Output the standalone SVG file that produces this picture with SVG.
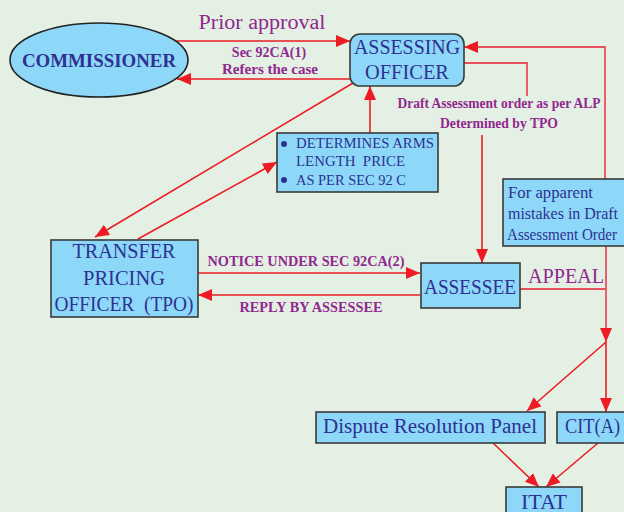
<svg xmlns="http://www.w3.org/2000/svg" width="624" height="512" viewBox="0 0 624 512">
<defs>
<style>
.bg{fill:#E3F0E3}
.box{fill:#8DD8F8;stroke:#3a3a3a;stroke-width:1.6}
.n{font-family:"Liberation Serif","Times New Roman",serif;fill:#2E3192}
.lb{font-family:"Liberation Serif","Times New Roman",serif;fill:#92278F}
.b{font-weight:bold}
.c{stroke:#ED1C24;stroke-width:1.6;fill:none}
.c2{stroke:#E9505E;stroke-width:1.8;fill:none}
</style>
<marker id="ah" viewBox="0 0 14 12" refX="14" refY="6" markerWidth="14" markerHeight="12" orient="auto" markerUnits="userSpaceOnUse"><path d="M0,0 L14,6 L0,12 z" fill="#ED1C24"/></marker>
</defs>
<rect class="bg" x="0" y="0" width="624" height="512"/>

<g id="connectors">
<path class="c" d="M175,41 H350" marker-end="url(#ah)"/>
<path class="c" d="M350,79 H177" marker-end="url(#ah)"/>
<path class="c2" d="M605,179 V47 H464" marker-end="url(#ah)"/>
<path class="c2" d="M464,63 H527 V96"/>
<path class="c" d="M482,135 V263" marker-end="url(#ah)"/>
<path class="c" d="M370,133 V86" marker-end="url(#ah)"/>
<path class="c" d="M353,83 L95,237" marker-end="url(#ah)"/>
<path class="c" d="M138,239 L277,162" marker-end="url(#ah)"/>
<path class="c" d="M198,273 H420" marker-end="url(#ah)"/>
<path class="c" d="M420,295 H198" marker-end="url(#ah)"/>
<path class="c2" d="M520,289 H606"/>
<path class="c2" d="M606,246 V342" marker-end="url(#ah)"/>
<path class="c" d="M606,342 L527,411" marker-end="url(#ah)"/>
<path class="c" d="M606,342 V412" marker-end="url(#ah)"/>
<path class="c" d="M493,443 L539,487" marker-end="url(#ah)"/>
<path class="c" d="M598,443 L546,487" marker-end="url(#ah)"/>
</g>

<g id="labels">
<text class="lb" x="262" y="29" font-size="20" text-anchor="middle" textLength="127" lengthAdjust="spacingAndGlyphs">Prior approval</text>
<text class="lb b" x="269" y="57" font-size="14" text-anchor="middle">Sec 92CA(1)</text>
<text class="lb b" x="270" y="74" font-size="14" text-anchor="middle" textLength="96" lengthAdjust="spacingAndGlyphs">Refers the case</text>
<text class="lb b" x="499" y="108" font-size="14" text-anchor="middle" textLength="203" lengthAdjust="spacingAndGlyphs">Draft Assessment order as per ALP</text>
<text class="lb b" x="499" y="128" font-size="14" text-anchor="middle" textLength="118" lengthAdjust="spacingAndGlyphs">Determined by TPO</text>
<text class="lb b" x="306" y="266" font-size="14" text-anchor="middle" textLength="197" lengthAdjust="spacingAndGlyphs">NOTICE UNDER SEC 92CA(2)</text>
<text class="lb b" x="311" y="312" font-size="14" text-anchor="middle" textLength="143" lengthAdjust="spacingAndGlyphs">REPLY BY ASSESSEE</text>
<text class="lb" x="566" y="283" font-size="20" text-anchor="middle" textLength="76" lengthAdjust="spacingAndGlyphs">APPEAL</text>
</g>

<g id="commissioner">
<ellipse cx="99" cy="60" rx="89" ry="37" fill="#8DD8F8" stroke="#222" stroke-width="1.6"/>
<text class="n b" x="99" y="67" font-size="19" text-anchor="middle" textLength="154" lengthAdjust="spacingAndGlyphs">COMMISSIONER</text>
</g>

<g id="assessing-officer">
<rect class="box" x="350" y="34" width="114" height="52" rx="10"/>
<text class="n" x="407" y="54" font-size="21" text-anchor="middle" textLength="106" lengthAdjust="spacingAndGlyphs">ASSESSING</text>
<text class="n" x="407" y="79" font-size="21" text-anchor="middle" textLength="84" lengthAdjust="spacingAndGlyphs">OFFICER</text>
</g>

<g id="determines">
<rect class="box" x="277" y="133" width="161" height="59"/>
<circle cx="284" cy="144" r="3" fill="#2E3192"/>
<circle cx="284" cy="180" r="3" fill="#2E3192"/>
<text class="n" x="296" y="148" font-size="15" textLength="138" lengthAdjust="spacingAndGlyphs">DETERMINES ARMS</text>
<text class="n" x="296" y="166" font-size="15" xml:space="preserve" textLength="109" lengthAdjust="spacingAndGlyphs">LENGTH  PRICE</text>
<text class="n" x="296" y="185" font-size="15" textLength="110" lengthAdjust="spacingAndGlyphs">AS PER SEC 92 C</text>
</g>

<g id="tpo">
<rect class="box" x="51" y="240" width="147" height="77"/>
<text class="n" x="124" y="258" font-size="21" text-anchor="middle" textLength="103" lengthAdjust="spacingAndGlyphs">TRANSFER</text>
<text class="n" x="124" y="285" font-size="21" text-anchor="middle" textLength="82" lengthAdjust="spacingAndGlyphs">PRICING</text>
<text class="n" x="124" y="311" font-size="21" text-anchor="middle" xml:space="preserve" textLength="139" lengthAdjust="spacingAndGlyphs">OFFICER  (TPO)</text>
</g>

<g id="assessee">
<rect class="box" x="421" y="263" width="99" height="45"/>
<text class="n" x="470" y="294" font-size="21" text-anchor="middle" textLength="92" lengthAdjust="spacingAndGlyphs">ASSESSEE</text>
</g>

<g id="apparent-mistakes">
<rect class="box" x="503" y="179" width="130" height="67"/>
<text class="n" x="508" y="198" font-size="17" textLength="85" lengthAdjust="spacingAndGlyphs">For apparent</text>
<text class="n" x="508" y="219" font-size="17" textLength="110" lengthAdjust="spacingAndGlyphs">mistakes in Draft</text>
<text class="n" x="507" y="240" font-size="16" textLength="110" lengthAdjust="spacingAndGlyphs">Assessment Order</text>
</g>

<g id="drp">
<rect class="box" x="316" y="412" width="229" height="31"/>
<text class="n" x="430" y="433" font-size="20" text-anchor="middle" textLength="214" lengthAdjust="spacingAndGlyphs">Dispute Resolution Panel</text>
</g>

<g id="cita">
<rect class="box" x="557" y="412" width="80" height="31"/>
<text class="n" x="565" y="433" font-size="20" textLength="55" lengthAdjust="spacingAndGlyphs">CIT(A)</text>
</g>

<g id="itat">
<rect class="box" x="506" y="487" width="76" height="34"/>
<text class="n" x="544" y="509" font-size="20" text-anchor="middle" textLength="46" lengthAdjust="spacingAndGlyphs">ITAT</text>
</g>
</svg>
